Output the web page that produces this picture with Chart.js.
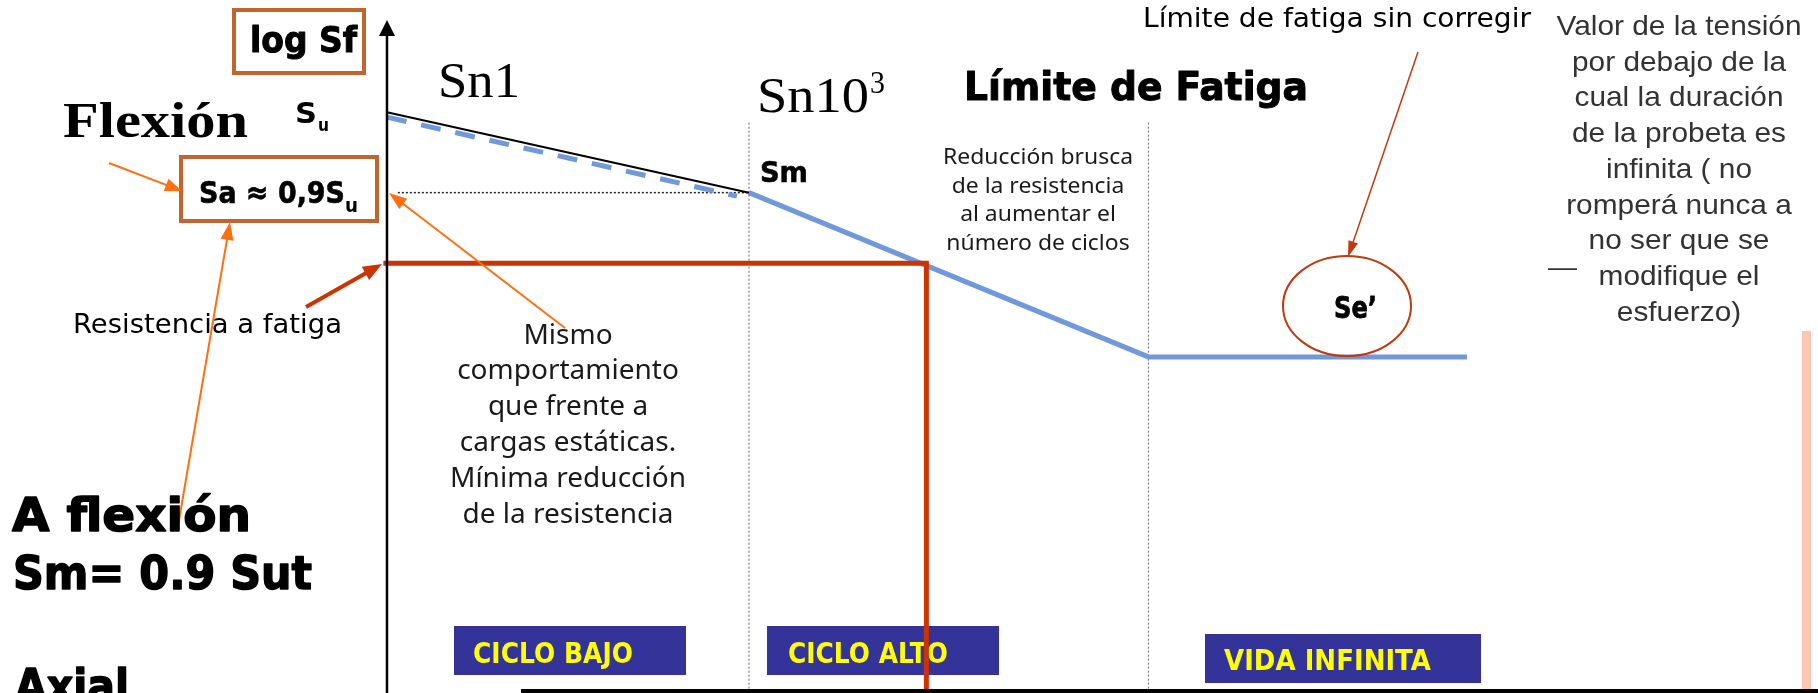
<!DOCTYPE html>
<html>
<head>
<meta charset="utf-8">
<script src="https://cdn.jsdelivr.net/npm/chart.js@4.4.0/dist/chart.umd.min.js"></script>
<style>
  html, body { margin: 0; padding: 0; background: #fff; overflow: hidden; }
  canvas { display: block; }
</style>
</head>
<body>
<canvas id="grafico" width="1818" height="693"></canvas>
<script>
// eje x: log N (décadas de ciclos), eje y: log Sf en unidades relativas (0-100)
const tramoSuX = [0, 3];
const tramoSuY = [83.8, 72.2];
const tramoDiscX = [0, 2.9];
const tramoDiscY = [83.1, 71.7];
const curvaSNX = [3, 6.31, 8.95];
const curvaSNY = [72.2, 48.5, 48.5];
const resistX = [-0.03, 4.47, 4.47];
const resistY = [62.0, 62.0, 0];
const smGuiaX = [0.09, 3];
const smGuiaY = [72.2, 72.2];
const divisionesX = [3, 6.31];
const divisionesY = [82.3, 0];

const zona = ['CICLO BAJO', 'CICLO ALTO', 'VIDA INFINITA'];

const pts = (xs, ys) => xs.map((x, i) => ({ x: x, y: ys[i] }));

function linea(datos, color, ancho, dash) {
    return {
        data: datos,
        showLine: true,
        borderColor: color,
        borderWidth: ancho,
        borderDash: dash || [],
        pointRadius: 0,
        fill: false,
        clip: false
    };
}

const datasets = [
    linea(pts(resistX, resistY), '#CC3300', 5),
    linea(pts(tramoSuX, tramoSuY), '#000000', 2),
    linea(pts(tramoDiscX, tramoDiscY), '#7098DC', 5, [20, 15]),
    linea(pts(curvaSNX, curvaSNY), '#7098DC', 5),
    linea(pts(smGuiaX, smGuiaY), '#222222', 1.5, [2, 2]),
    linea(pts([divisionesX[0], divisionesX[0]], divisionesY), '#666666', 1, [2, 2]),
    linea(pts([divisionesX[1], divisionesX[1]], divisionesY), '#666666', 1, [2, 2])
];

// textos sueltos (posiciones en píxeles del lienzo)
const textos = [
    { s: 'log Sf', x: 250, y: 52, font: 'bold 35px "DejaVu Sans"', w: 107, g: 1 },
    { s: 'Flexión', x: 63, y: 137, font: 'bold 50px "Liberation Serif"', w: 185 },
    { s: 'S', x: 295, y: 123, font: 'bold 28px "DejaVu Sans"', w: 22 },
    { s: 'u', x: 318, y: 131, font: 'bold 17px "DejaVu Sans"', w: 11 },
    { s: 'Sa ≈ 0,9S', x: 199, y: 203, font: 'bold 31px "DejaVu Sans"', w: 146, g: 0.6 },
    { s: 'u', x: 345, y: 212, font: 'bold 19px "DejaVu Sans"', w: 13 },
    { s: 'Sn1', x: 438, y: 97, font: '50px "Liberation Serif"', w: 82 },
    { s: 'Sn10', x: 757, y: 112, font: '50px "Liberation Serif"', w: 112 },
    { s: '3', x: 870, y: 93, font: '32px "Liberation Serif"', w: 15 },
    { s: 'Sm', x: 760, y: 182, font: 'bold 29px "DejaVu Sans"', w: 48, g: 0.6 },
    { s: 'Límite de Fatiga', x: 964, y: 100, font: 'bold 39px "DejaVu Sans"', w: 344, g: 1 },
    { s: 'Límite de fatiga sin corregir', x: 1143, y: 27, font: '26px "DejaVu Sans"', w: 388 },
    { s: 'Resistencia a fatiga', x: 73, y: 333, font: '27px "DejaVu Sans"', w: 269 },
    { s: 'A flexión', x: 12, y: 531, font: 'bold 47px "DejaVu Sans"', w: 239, g: 1.5 },
    { s: 'Sm= 0.9 Sut', x: 13, y: 589, font: 'bold 47px "DejaVu Sans"', w: 299, g: 1.5 },
    { s: 'Axial', x: 15, y: 702, font: 'bold 47px "DejaVu Sans"', w: 114, g: 1.5 },
    { s: 'Se’', x: 1334, y: 318, font: 'bold 30px "DejaVu Sans"', w: 43, g: 0.8 },
    { s: '—', x: 1548, y: 276, font: '26px "Liberation Sans"', w: 29, color: '#333' }
];

const bloques = [
    {
        lines: ['Mismo', 'comportamiento', 'que frente a', 'cargas estáticas.', 'Mínima reducción', 'de la resistencia'],
        cx: 568, y0: 336, lh: 35.8, font: '27px "Noto Sans"', ref: 4, refW: 236, color: '#1a1a1a', base: 'middle'
    },
    {
        lines: ['Reducción brusca', 'de la resistencia', 'al aumentar el', 'número de ciclos'],
        cx: 1038, y0: 158, lh: 28.5, font: '22px "Noto Sans"', ref: 0, refW: 190, color: '#1a1a1a', base: 'middle'
    },
    {
        lines: ['Valor de la tensión', 'por debajo de la', 'cual la duración', 'de la probeta es', 'infinita ( no',
            'romperá nunca a', 'no ser que se', 'modifique el', 'esfuerzo)'],
        cx: 1679, y0: 35, lh: 35.7, font: '28px "Liberation Sans"', ref: 0, refW: 245, color: '#333333', base: 'alphabetic'
    }
];

const marcos = [
    { x: 234, y: 10, w: 130, h: 63 },
    { x: 181, y: 157, w: 196, h: 64 }
];

const cajasAzules = [
    { x: 454, y: 626, w: 232, h: 49, tx: 473, tw: 160, by: 663 },
    { x: 767, y: 626, w: 232, h: 49, tx: 788, tw: 160, by: 663 },
    { x: 1205, y: 634, w: 276, h: 49, tx: 1224, tw: 207, by: 670 }
];

function texto(ctx, t) {
    ctx.save();
    ctx.font = t.font;
    ctx.fillStyle = t.color || '#000';
    ctx.textBaseline = t.base || 'alphabetic';
    ctx.textAlign = t.align || 'left';
    const k = t.w ? t.w / ctx.measureText(t.s).width : (t.k || 1);
    ctx.translate(t.x, t.y);
    ctx.scale(k, 1);
    ctx.fillText(t.s, 0, 0);
    if (t.g) {
        // engrosar un poco el trazo
        ctx.strokeStyle = t.color || '#000';
        ctx.lineWidth = t.g;
        ctx.lineJoin = 'round';
        ctx.strokeText(t.s, 0, 0);
    }
    ctx.restore();
}

function flecha(ctx, a, b, c, d, color, lw, largo, ancho) {
    const ang = Math.atan2(d - b, c - a);
    ctx.save();
    ctx.strokeStyle = color;
    ctx.fillStyle = color;
    ctx.lineWidth = lw;
    ctx.beginPath();
    ctx.moveTo(a, b);
    ctx.lineTo(c - Math.cos(ang) * largo * 0.8, d - Math.sin(ang) * largo * 0.8);
    ctx.stroke();
    ctx.translate(c, d);
    ctx.rotate(ang);
    ctx.beginPath();
    ctx.moveTo(0, 0);
    ctx.lineTo(-largo, -ancho / 2);
    ctx.lineTo(-largo, ancho / 2);
    ctx.closePath();
    ctx.fill();
    ctx.restore();
}

const anotaciones = {
    id: 'anotaciones',
    beforeDatasetsDraw(chart) {
        const ctx = chart.ctx;
        ctx.save();
        // barra rosada a la derecha
        ctx.fillStyle = '#FBC6B4';
        ctx.fillRect(1802, 331, 9, 362);
        // recuadros azules de zonas
        cajasAzules.forEach((c, i) => {
            ctx.fillStyle = '#343399';
            ctx.fillRect(c.x, c.y, c.w, c.h);
            texto(ctx, { s: zona[i], x: c.tx, y: c.by, font: 'bold 29px "DejaVu Sans"', w: c.tw, color: '#FFFF00' });
        });
        ctx.restore();
    },
    afterDatasetsDraw(chart) {
        const ctx = chart.ctx;
        const x0 = chart.scales.x.getPixelForValue(0);
        ctx.save();

        // eje vertical con flecha
        ctx.strokeStyle = '#000';
        ctx.lineWidth = 2.5;
        ctx.beginPath();
        ctx.moveTo(x0, 32);
        ctx.lineTo(x0, 693);
        ctx.stroke();
        ctx.fillStyle = '#000';
        ctx.beginPath();
        ctx.moveTo(x0, 20);
        ctx.lineTo(x0 - 8, 36);
        ctx.lineTo(x0 + 8, 36);
        ctx.closePath();
        ctx.fill();

        // eje horizontal (parte visible)
        ctx.fillRect(521, 689, 1297, 4);

        // marcos marrones
        ctx.strokeStyle = '#C0652B';
        ctx.lineWidth = 4;
        marcos.forEach(m => ctx.strokeRect(m.x, m.y, m.w, m.h));

        // flechas
        flecha(ctx, 109, 163, 182, 191, '#FF6F0F', 2, 17, 13);
        flecha(ctx, 178, 526, 230, 222, '#FF6F0F', 2, 18, 13);
        flecha(ctx, 565, 328, 389, 193, '#FF6F0F', 2, 18, 13);
        flecha(ctx, 306, 307, 382, 264, '#CC3300', 4, 19, 15);
        flecha(ctx, 1418, 52, 1348, 257, '#C03A10', 1.5, 16, 10);

        // elipse Se'
        ctx.strokeStyle = '#C03A10';
        ctx.lineWidth = 2;
        ctx.beginPath();
        ctx.ellipse(1347, 306, 64, 50, 0, 0, Math.PI * 2);
        ctx.stroke();

        textos.forEach(t => texto(ctx, t));

        bloques.forEach(b => {
            ctx.font = b.font;
            const k = b.refW / ctx.measureText(b.lines[b.ref]).width;
            b.lines.forEach((s, i) => {
                texto(ctx, { s: s, x: b.cx, y: b.y0 + i * b.lh, font: b.font, k: k, color: b.color, base: b.base, align: 'center' });
            });
        });

        ctx.restore();
    }
};

new Chart(document.getElementById('grafico').getContext('2d'), {
    type: 'scatter',
    data: { datasets: datasets },
    options: {
        responsive: false,
        animation: false,
        devicePixelRatio: 1,
        layout: { padding: 0, autoPadding: false },
        plugins: { legend: { display: false }, tooltip: { enabled: false } },
        elements: { line: { tension: 0 }, point: { radius: 0 } },
        scales: {
            x: { type: 'linear', min: -3.207, max: 11.859, display: false },
            y: { type: 'linear', min: 0, max: 100, display: false }
        }
    },
    plugins: [anotaciones]
});
</script>
</body>
</html>
